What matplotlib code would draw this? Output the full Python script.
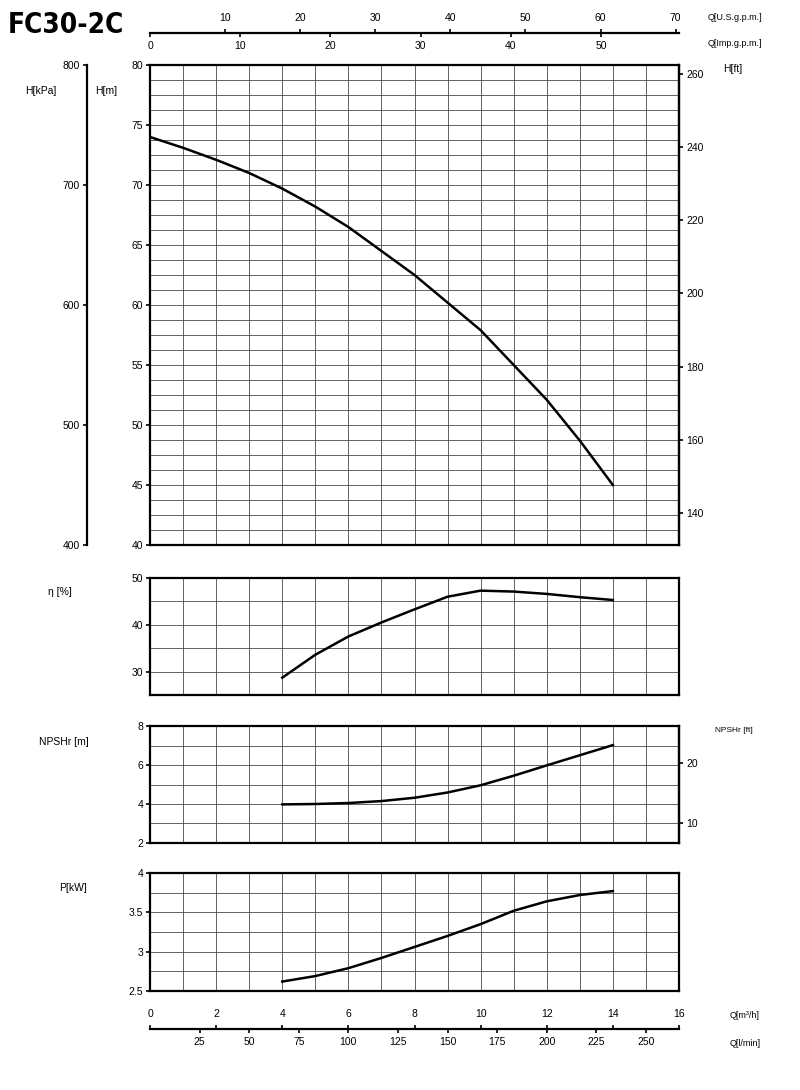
"""
FC30-2C pump performance chart: head, efficiency, NPSHr and power vs flow.
"""
import numpy as np
import matplotlib
matplotlib.use("Agg")
import matplotlib.pyplot as plt
from matplotlib.ticker import MultipleLocator, FixedLocator

# ── Data ──────────────────────────────────────────────────────────────────────
q_head = [0, 1, 2, 3, 4, 5, 6, 7, 8, 9, 10, 11, 12, 13, 14]          # m³/h
head_m = [74.0, 73.1, 72.1, 71.0, 69.7, 68.2, 66.5, 64.5, 62.5, 60.2,
          57.9, 55.0, 52.1, 48.7, 45.0]

q_op = [4, 5, 6, 7, 8, 9, 10, 11, 12, 13, 14]                          # m³/h
eff_pct = [28.7, 33.6, 37.5, 40.5, 43.3, 46.0, 47.3, 47.1, 46.6, 45.9, 45.3]
npshr_m = [3.98, 4.0, 4.05, 4.15, 4.32, 4.59, 4.96, 5.45, 5.98, 6.5, 7.02]
power_kw = [2.62, 2.69, 2.79, 2.92, 3.06, 3.2, 3.35, 3.52, 3.64, 3.72, 3.77]

m3h_ticks = [0, 2, 4, 6, 8, 10, 12, 14, 16]
lmin_ticks = [25, 50, 75, 100, 125, 150, 175, 200, 225, 250]
usgpm_ticks = [10, 20, 30, 40, 50, 60, 70]
impgpm_ticks = [0, 10, 20, 30, 40, 50]
kpa_ticks = [400, 500, 600, 700, 800]
ft_ticks = [140, 160, 180, 200, 220, 240, 260]
npsh_ft_ticks = [10, 20]

# unit conversions from m³/h
M3H_TO_LMIN = 1000 / 60
M3H_TO_USGPM = 1000 / 60 / 3.78541
M3H_TO_IMPGPM = 1000 / 60 / 4.54609
M_TO_FT = 1 / 0.3048

# ── Style ─────────────────────────────────────────────────────────────────────
plt.rcParams["font.family"] = ["Liberation Sans", "DejaVu Sans"]
FS = 7.5
W, H = 800, 1090
X0, X1 = 150, 679          # pixel extent of the flow axis
GRID_C = "#4a4a4a"

fig = plt.figure(figsize=(W / 100, H / 100), dpi=100)


def px_axes(left, top, right, bottom):
    return fig.add_axes([left / W, 1 - bottom / H, (right - left) / W,
                         (bottom - top) / H])


def panel(top, bottom, ylim, ystep, ymajor):
    ax = px_axes(X0, top, X1, bottom)
    ax.set_xlim(0, 16)
    ax.set_ylim(*ylim)
    ax.xaxis.set_major_locator(MultipleLocator(1))
    ax.yaxis.set_major_locator(MultipleLocator(ymajor))
    ax.yaxis.set_minor_locator(MultipleLocator(ystep))
    ax.grid(True, which="both", color=GRID_C, linewidth=0.6)
    ax.tick_params(axis="x", which="both", length=0, labelbottom=False)
    ax.tick_params(axis="y", which="minor", length=0)
    ax.tick_params(axis="y", which="major", length=3, width=1.2,
                   labelsize=FS, pad=2)
    for s in ax.spines.values():
        s.set_linewidth(1.6)
    ax.set_axisbelow(True)
    return ax


# ── Head panel ────────────────────────────────────────────────────────────────
ax_h = panel(65, 545, (40, 80), 1.25, 5)
ax_h.plot(q_head, head_m, color="black", linewidth=1.8)

sec_ft = ax_h.secondary_yaxis("right", functions=(lambda m: m * M_TO_FT,
                                                  lambda f: f / M_TO_FT))
sec_ft.yaxis.set_major_locator(FixedLocator(ft_ticks))
sec_ft.tick_params(length=3, width=1.2, labelsize=FS, pad=2)
sec_ft.spines["right"].set_linewidth(1.6)

ax_kpa = px_axes(87, 65, 87.2, 545)
ax_kpa.set_ylim(400, 800)
ax_kpa.set_yticks(kpa_ticks)
ax_kpa.set_xticks([])
for k in ("top", "right", "bottom"):
    ax_kpa.spines[k].set_visible(False)
ax_kpa.spines["left"].set_linewidth(1.6)
ax_kpa.tick_params(length=3, width=1.2, labelsize=FS, pad=2)

fig.text(41 / W, 1 - 91 / H, "H[kPa]", fontsize=FS, ha="center", va="center")
fig.text(106 / W, 1 - 91 / H, "H[m]", fontsize=FS, ha="center", va="center")
fig.text(733 / W, 1 - 69 / H, "H[ft]", fontsize=FS, ha="center", va="center")

# ── Efficiency panel ──────────────────────────────────────────────────────────
ax_e = panel(578, 695, (25, 50), 5, 10)
ax_e.plot(q_op, eff_pct, color="black", linewidth=1.8)
fig.text(60 / W, 1 - 592 / H, "η [%]", fontsize=FS, ha="center", va="center")

# ── NPSHr panel ───────────────────────────────────────────────────────────────
ax_n = panel(726, 843, (2, 8), 1, 2)
ax_n.plot(q_op, npshr_m, color="black", linewidth=1.8)
sec_nft = ax_n.secondary_yaxis("right", functions=(lambda m: m * M_TO_FT,
                                                   lambda f: f / M_TO_FT))
sec_nft.yaxis.set_major_locator(FixedLocator(npsh_ft_ticks))
sec_nft.tick_params(length=3, width=1.2, labelsize=FS, pad=2)
sec_nft.spines["right"].set_linewidth(1.6)
fig.text(64 / W, 1 - 742 / H, "NPSHr [m]", fontsize=FS, ha="center",
         va="center")
fig.text(734 / W, 1 - 730 / H, "NPSHr [ft]", fontsize=FS - 1.5, ha="center",
         va="center")

# ── Power panel ───────────────────────────────────────────────────────────────
ax_p = panel(873, 991, (2.5, 4), 0.25, 0.5)
ax_p.plot(q_op, power_kw, color="black", linewidth=1.8)
ax_p.yaxis.set_major_formatter(plt.FuncFormatter(lambda v, _: f"{v:g}"))
fig.text(73 / W, 1 - 888 / H, "P[kW]", fontsize=FS, ha="center", va="center")


# ── Flow scales (top and bottom) ──────────────────────────────────────────────
def flow_scale(y_px, upper_ticks, upper_labels, lower_fwd, lower_ticks):
    ax = px_axes(X0, y_px - 0.05, X1, y_px + 0.05)
    ax.set_xlim(0, 16)
    ax.set_ylim(0, 1)
    ax.set_yticks([])
    for k in ("left", "right", "bottom"):
        ax.spines[k].set_visible(False)
    ax.spines["top"].set_linewidth(1.6)
    ax.xaxis.set_ticks_position("top")
    ax.xaxis.set_label_position("top")
    ax.set_xticks(upper_ticks, upper_labels)
    ax.tick_params(axis="x", length=3, width=1.2, labelsize=FS, pad=4)
    sec = ax.secondary_xaxis(1.0, functions=(lambda q: q * lower_fwd,
                                             lambda v: v / lower_fwd))
    sec.xaxis.set_ticks_position("bottom")
    sec.xaxis.set_major_locator(FixedLocator(lower_ticks))
    sec.spines["bottom"].set_visible(False)
    sec.spines["top"].set_visible(False)
    sec.tick_params(axis="x", direction="out", length=3, width=1.2,
                    labelsize=FS, pad=3)
    return ax


flow_scale(33, [g / M3H_TO_USGPM for g in usgpm_ticks],
           [str(g) for g in usgpm_ticks], M3H_TO_IMPGPM, impgpm_ticks)
flow_scale(1029, m3h_ticks, [str(q) for q in m3h_ticks], M3H_TO_LMIN,
           lmin_ticks)

fig.text(708 / W, 1 - 17 / H, "Q[U.S.g.p.m.]", fontsize=FS - 1,
         ha="left", va="center")
fig.text(708 / W, 1 - 44 / H, "Q[Imp.g.p.m.]", fontsize=FS - 1,
         ha="left", va="center")
fig.text(730 / W, 1 - 1015 / H, "Q[m³/h]", fontsize=FS - 1,
         ha="left", va="center")
fig.text(730 / W, 1 - 1043 / H, "Q[l/min]", fontsize=FS - 1,
         ha="left", va="center")

# ── Title ─────────────────────────────────────────────────────────────────────
fig.text(8 / W, 1 - 25 / H, "FC30-2C", fontsize=20, fontweight="bold",
         fontstretch="condensed",
         family=["Liberation Sans Narrow", "DejaVu Sans"],
         ha="left", va="center")

fig.savefig("out.png", dpi=100)
